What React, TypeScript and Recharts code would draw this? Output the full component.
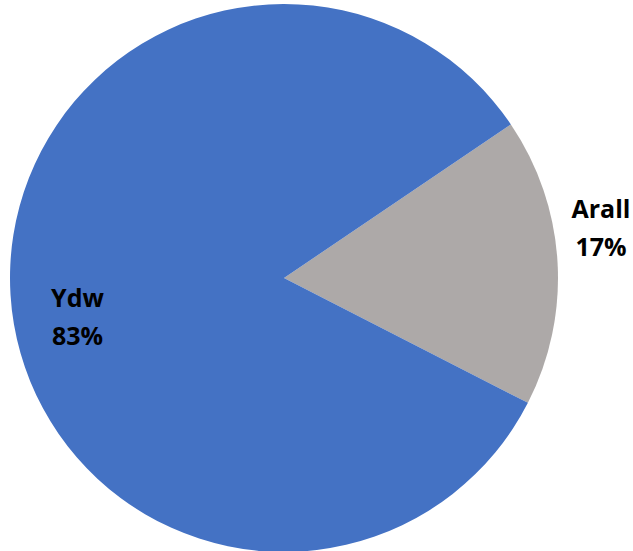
import React from 'react';
import { PieChart, Pie, Cell } from 'recharts';

const categories = ['Arall', 'Ydw'];
const values = [17, 83];
const colors = ['#ADA9A8', '#4472C4'];

const data = categories.map((name, i) => ({ name, value: values[i] }));

const RAD = Math.PI / 180;

// label placement per slice: distance from centre and angle nudge
const labelRadius = [321, 210];
const labelNudge = [5.6, 7];

const renderLabel = (props: any) => {
  const { cx, cy, midAngle, index, name, percent } = props;
  const r = labelRadius[index];
  const a = (midAngle + labelNudge[index]) * RAD;
  const x = cx + r * Math.cos(-a);
  const y = cy + r * Math.sin(-a);
  return (
    <text
      x={x}
      y={y}
      textAnchor="middle"
      fill="#000"
      fontFamily="'Open Sans', sans-serif"
      fontWeight={700}
      fontSize={25}
    >
      <tspan x={x} dy={-9}>{name}</tspan>
      <tspan x={x} dy={38}>{`${Math.round(percent * 100)}%`}</tspan>
    </text>
  );
};

const App: React.FC = () => {
  return (
    <div style={{ position: 'absolute', left: 0, top: 0, width: 633, height: 551 }}>
      <PieChart width={633} height={551} margin={{ top: 0, right: 0, bottom: 0, left: 0 }}>
        <Pie
          data={data}
          dataKey="value"
          nameKey="name"
          cx={284}
          cy={278}
          outerRadius={274}
          startAngle={34.1}
          endAngle={-325.9}
          stroke="none"
          label={renderLabel}
          labelLine={false}
          isAnimationActive={false}
        >
          {data.map((d, i) => (
            <Cell key={d.name} fill={colors[i]} />
          ))}
        </Pie>
      </PieChart>
    </div>
  );
};

export default App;
